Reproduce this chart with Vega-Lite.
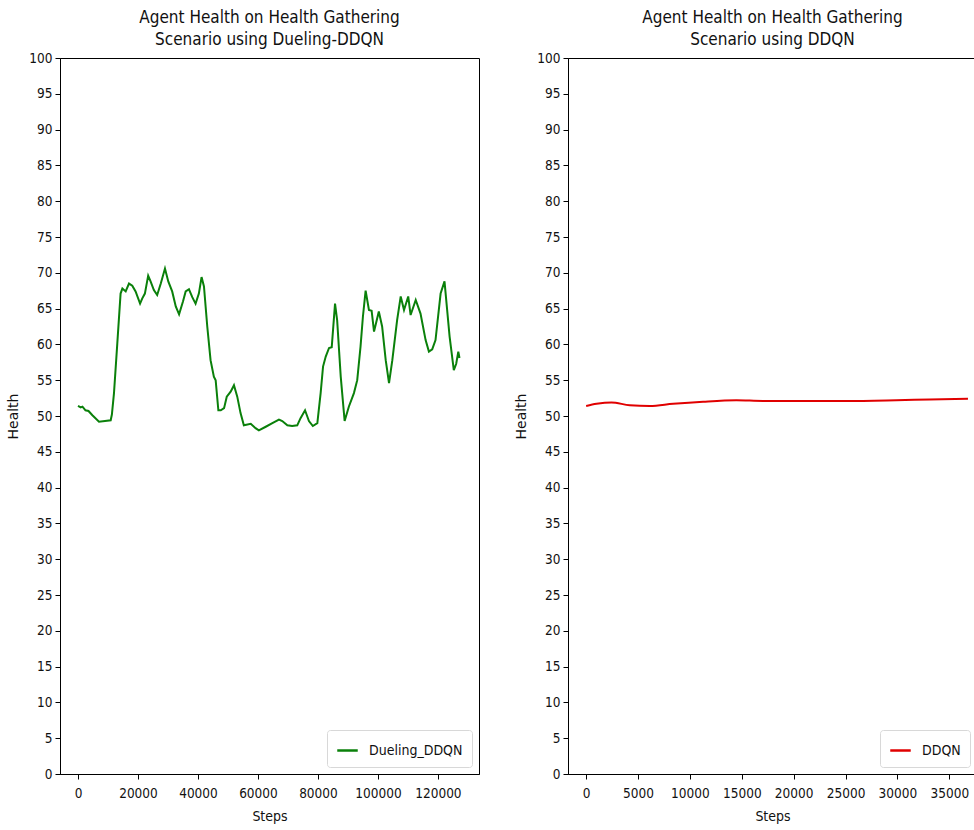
{
  "$schema": "https://vega.github.io/schema/vega-lite/v6.json",
  "padding": {"left": 6, "top": 8, "right": 0, "bottom": 0},
  "background": "white",
  "spacing": 34,
  "resolve": {"scale": {"color": "independent"}, "legend": {"color": "independent"}},
  "config": {
    "font": "DejaVu Sans Condensed",
    "view": {"stroke": "black", "strokeWidth": 1},
    "axis": {
      "grid": false,
      "domainColor": "black",
      "tickColor": "black",
      "labelColor": "#111",
      "titleColor": "#111",
      "labelFont": "DejaVu Sans Condensed",
      "labelFontSize": 13.5,
      "tickSize": 5,
      "labelPadding": 3
    },
    "title": {"font": "DejaVu Sans Condensed", "fontSize": 17, "fontWeight": "normal", "color": "#111", "lineHeight": 22, "offset": 2, "anchor": "middle"},
    "legend": {"labelFont": "DejaVu Sans Condensed", "labelFontSize": 14, "labelColor": "#111"}
  },
  "datasets": {
    "dueling": [
      {"step": 0, "health": 51.4}, {"step": 900, "health": 51.2}, {"step": 1500, "health": 51.3}, {"step": 2500, "health": 50.8},
      {"step": 3500, "health": 50.7}, {"step": 4800, "health": 50.1}, {"step": 7000, "health": 49.2}, {"step": 9000, "health": 49.3},
      {"step": 10900, "health": 49.4}, {"step": 11300, "health": 50.2}, {"step": 12000, "health": 53.2}, {"step": 13100, "health": 60.1},
      {"step": 14200, "health": 67.1}, {"step": 14800, "health": 67.8}, {"step": 15900, "health": 67.4}, {"step": 17000, "health": 68.5},
      {"step": 18100, "health": 68.2}, {"step": 19200, "health": 67.4}, {"step": 20700, "health": 65.7}, {"step": 21400, "health": 66.4},
      {"step": 22300, "health": 67.1}, {"step": 23400, "health": 69.6}, {"step": 24200, "health": 68.8}, {"step": 25300, "health": 67.6},
      {"step": 26400, "health": 66.9}, {"step": 27600, "health": 68.5}, {"step": 29000, "health": 70.6}, {"step": 30100, "health": 68.8},
      {"step": 31400, "health": 67.4}, {"step": 32600, "health": 65.3}, {"step": 33700, "health": 64.2}, {"step": 35000, "health": 66.0},
      {"step": 35900, "health": 67.4}, {"step": 37000, "health": 67.7}, {"step": 38100, "health": 66.6}, {"step": 39200, "health": 65.7},
      {"step": 40300, "health": 67.1}, {"step": 41200, "health": 69.4}, {"step": 42000, "health": 68.1}, {"step": 43100, "health": 62.5},
      {"step": 44200, "health": 57.8}, {"step": 45300, "health": 55.5}, {"step": 45900, "health": 55.0}, {"step": 46800, "health": 50.8},
      {"step": 47600, "health": 50.8}, {"step": 48700, "health": 51.1}, {"step": 49600, "health": 52.7}, {"step": 50900, "health": 53.4},
      {"step": 52000, "health": 54.3}, {"step": 53100, "health": 52.7}, {"step": 54200, "health": 50.4}, {"step": 55300, "health": 48.7},
      {"step": 57600, "health": 48.9}, {"step": 59200, "health": 48.3}, {"step": 60300, "health": 48.0}, {"step": 62600, "health": 48.5},
      {"step": 64800, "health": 49.0}, {"step": 67000, "health": 49.5}, {"step": 68100, "health": 49.3}, {"step": 69800, "health": 48.7},
      {"step": 71400, "health": 48.6}, {"step": 73100, "health": 48.7}, {"step": 74200, "health": 49.7}, {"step": 75700, "health": 50.8},
      {"step": 77000, "health": 49.3}, {"step": 78300, "health": 48.6}, {"step": 79800, "health": 49.0}, {"step": 80900, "health": 53.2},
      {"step": 81700, "health": 56.9}, {"step": 82600, "health": 58.3}, {"step": 83700, "health": 59.5}, {"step": 84600, "health": 59.6},
      {"step": 85700, "health": 65.7}, {"step": 86400, "health": 63.4}, {"step": 87600, "health": 55.5}, {"step": 88900, "health": 49.3},
      {"step": 90300, "health": 51.3}, {"step": 92000, "health": 53.2}, {"step": 93100, "health": 55.0}, {"step": 94200, "health": 59.7},
      {"step": 95000, "health": 63.9}, {"step": 95900, "health": 67.5}, {"step": 97000, "health": 64.8}, {"step": 97900, "health": 64.7},
      {"step": 98700, "health": 61.8}, {"step": 100300, "health": 64.6}, {"step": 101400, "health": 62.5}, {"step": 102600, "health": 57.8},
      {"step": 103700, "health": 54.6}, {"step": 104800, "health": 57.8}, {"step": 106400, "health": 63.4}, {"step": 107600, "health": 66.7},
      {"step": 108700, "health": 64.8}, {"step": 110100, "health": 66.7}, {"step": 110900, "health": 64.1}, {"step": 112600, "health": 66.2},
      {"step": 114200, "health": 64.3}, {"step": 115900, "health": 60.6}, {"step": 117000, "health": 59.0}, {"step": 118100, "health": 59.3},
      {"step": 119200, "health": 60.6}, {"step": 120900, "health": 67.1}, {"step": 122200, "health": 68.8}, {"step": 123900, "health": 61.1},
      {"step": 125300, "health": 56.4}, {"step": 126100, "health": 57.3}, {"step": 126800, "health": 59.0}, {"step": 127200, "health": 58.1}
    ],
    "ddqn": [
      {"step": 0, "health": 51.4}, {"step": 1000, "health": 51.7}, {"step": 2440, "health": 51.9}, {"step": 4200, "health": 51.5},
      {"step": 6130, "health": 51.4}, {"step": 8380, "health": 51.7}, {"step": 11270, "health": 52.0}, {"step": 14480, "health": 52.2},
      {"step": 17050, "health": 52.1}, {"step": 20260, "health": 52.1}, {"step": 25080, "health": 52.1}, {"step": 29890, "health": 52.2},
      {"step": 33110, "health": 52.3}, {"step": 36800, "health": 52.4}
    ]
  },
  "hconcat": [
    {
      "width": 419,
      "height": 716,
      "title": {"text": ["Agent Health on Health Gathering", " Scenario using Dueling-DDQN"]},
      "data": {"name": "dueling"},
      "transform": [{"calculate": "'Dueling_DDQN'", "as": "series"}],
      "mark": {"type": "line", "strokeWidth": 2, "interpolate": "linear"},
      "encoding": {
        "x": {"field": "step", "type": "quantitative", "scale": {"domain": [-6000, 133700], "nice": false, "zero": false},
              "axis": {"values": [0, 20000, 40000, 60000, 80000, 100000, 120000], "format": "d", "labelPadding": 7, "title": "Steps", "titleFont": "DejaVu Sans Condensed", "titleFontSize": 14, "titleFontWeight": "normal", "titlePadding": 10}},
        "y": {"field": "health", "type": "quantitative", "scale": {"domain": [0, 100], "nice": false},
              "axis": {"values": [0,5,10,15,20,25,30,35,40,45,50,55,60,65,70,75,80,85,90,95,100], "title": "Health", "titleFont": "DejaVu Sans", "titleFontSize": 14, "titleFontWeight": "normal", "titlePadding": 8}},
        "color": {"field": "series", "type": "nominal", "scale": {"domain": ["Dueling_DDQN"], "range": ["#0a800a"]},
                  "legend": {"title": null, "orient": "bottom-right", "offset": 7, "symbolType": "stroke", "symbolSize": 420, "symbolStrokeWidth": 2.5, "strokeColor": "#d8d8d8", "fillColor": "white", "padding": 9, "cornerRadius": 3, "labelOffset": 10}}
      }
    },
    {
      "width": 409,
      "height": 716,
      "title": {"text": ["Agent Health on Health Gathering", "Scenario using DDQN"]},
      "data": {"name": "ddqn"},
      "transform": [{"calculate": "'DDQN'", "as": "series"}],
      "mark": {"type": "line", "strokeWidth": 2, "interpolate": "monotone"},
      "encoding": {
        "x": {"field": "step", "type": "quantitative", "scale": {"domain": [-1750, 37670], "nice": false, "zero": false},
              "axis": {"values": [0, 5000, 10000, 15000, 20000, 25000, 30000, 35000], "format": "d", "labelPadding": 7, "title": "Steps", "titleFont": "DejaVu Sans Condensed", "titleFontSize": 14, "titleFontWeight": "normal", "titlePadding": 10}},
        "y": {"field": "health", "type": "quantitative", "scale": {"domain": [0, 100], "nice": false},
              "axis": {"values": [0,5,10,15,20,25,30,35,40,45,50,55,60,65,70,75,80,85,90,95,100], "title": "Health", "titleFont": "DejaVu Sans", "titleFontSize": 14, "titleFontWeight": "normal", "titlePadding": 8}},
        "color": {"field": "series", "type": "nominal", "scale": {"domain": ["DDQN"], "range": ["#e00000"]},
                  "legend": {"title": null, "orient": "bottom-right", "offset": 7, "symbolType": "stroke", "symbolSize": 420, "symbolStrokeWidth": 2.5, "strokeColor": "#d8d8d8", "fillColor": "white", "padding": 9, "cornerRadius": 3, "labelOffset": 10}}
      }
    }
  ]
}
